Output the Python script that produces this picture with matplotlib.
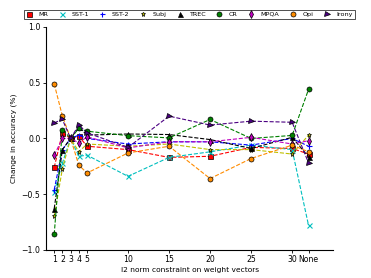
import matplotlib
matplotlib.use("Agg")
import matplotlib.pyplot as plt

# x positions (None is drawn at 32)
x_pos = [1, 2, 3, 4, 5, 10, 15, 20, 25, 30, 32]
x_labels = ["1", "2", "3", "4", "5", "10", "15", "20", "25", "30", "None"]

# change in accuracy relative to constraint = 3
mr    = [-0.26, 0.05, 0.0, 0.02, -0.07, -0.10, -0.17, -0.16, -0.08, -0.09, -0.14]
sst1  = [-0.48, -0.22, 0.0, -0.16, -0.15, -0.34, -0.17, -0.12, -0.06, -0.10, -0.78]
sst2  = [-0.46, -0.10, 0.0, 0.03, 0.00, -0.05, -0.03, -0.03, -0.06, 0.00, -0.07]
subj  = [-0.70, -0.27, 0.0, -0.12, -0.05, -0.07, -0.05, -0.10, -0.10, -0.14, 0.03]
trec  = [-0.63, -0.10, 0.0, 0.10, 0.03, 0.04, 0.035, -0.01, -0.09, 0.01, -0.165]
cr    = [-0.86, 0.08, 0.0, 0.09, 0.065, 0.025, 0.005, 0.17, 0.00, 0.027, 0.44]
mpqa  = [-0.15, 0.00, 0.0, -0.04, 0.015, -0.085, -0.03, -0.03, 0.01, -0.05, -0.02]
opi   = [0.49, 0.20, 0.0, -0.24, -0.31, -0.13, -0.07, -0.36, -0.18, -0.06, -0.12]
irony = [0.14, 0.17, 0.0, 0.12, 0.05, -0.08, 0.20, 0.12, 0.155, 0.145, -0.22]

series = [
    ("MR", mr, "r", "s"),
    ("SST-1", sst1, "c", "x"),
    ("SST-2", sst2, "b", "+"),
    ("Subj", subj, "y", "*"),
    ("TREC", trec, "k", "^"),
    ("CR", cr, "g", "o"),
    ("MPQA", mpqa, "m", "d"),
    ("Opi", opi, "darkorange", "o"),
    ("Irony", irony, "indigo", ">"),
]

fig = plt.figure(figsize=(3.71, 2.78), dpi=100)
ax = fig.add_axes([0.124, 0.101, 0.774, 0.802])

for name, vals, col, mk in series:
    ax.plot(x_pos, vals, linestyle="--", color=col, marker=mk, markersize=3.6,
            markeredgecolor="k" if mk not in ("x", "+") else col,
            markeredgewidth=0.5 if mk not in ("x", "+") else 0.8,
            linewidth=0.8, label=name)

ax.set_xlim(0, 35)
ax.set_ylim(-1.0, 1.0)
ax.set_xticks(x_pos)
ax.set_xticklabels(x_labels)
ax.set_yticks([-1.0, -0.5, 0.0, 0.5, 1.0])
ax.tick_params(labelsize=5.6, length=2.5, width=0.6, pad=1.5, direction="out")
ax.spines["top"].set_visible(False)
ax.spines["right"].set_visible(False)
ax.spines["left"].set_linewidth(0.8)
ax.spines["bottom"].set_linewidth(0.8)
ax.set_xlabel("l2 norm constraint on weight vectors", fontsize=5.4, labelpad=2)
ax.set_ylabel("Change in accuracy (%)", fontsize=5.4, labelpad=3)

leg = fig.legend(loc="center", bbox_to_anchor=(0.51, 0.949), ncol=9, fontsize=4.6,
                 frameon=True, fancybox=False, edgecolor="k", handlelength=1.0,
                 columnspacing=1.6, handletextpad=1.0, borderpad=0.3)
leg.get_frame().set_linewidth(0.6)
for h in leg.legend_handles:
    h.set_linestyle("none")

fig.savefig("out.png", dpi=100)
